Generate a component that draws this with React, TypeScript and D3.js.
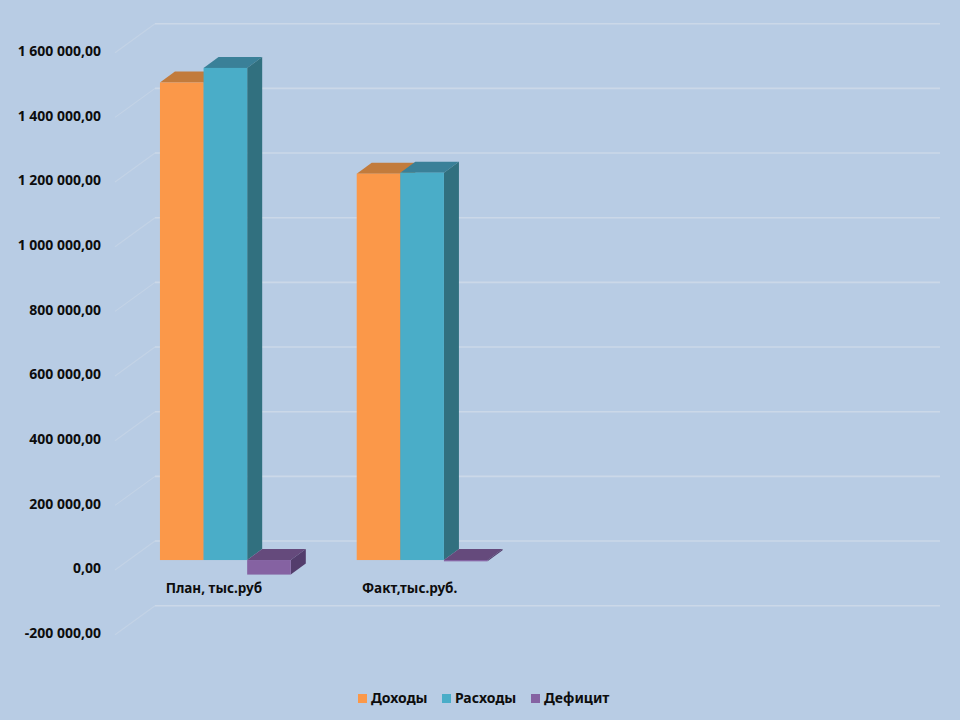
import React from 'react'
import * as d3 from 'd3'

const categories = ['План, тыс.руб', 'Факт,тыс.руб.', ' ', '  ']
const seriesNames = ['Доходы', 'Расходы', 'Дефицит']
const dohody = [1477000, 1195000]
const rashody = [1522000, 1198000]
const deficit = [-45000, -4000]
const yTicks = [-200000, 0, 200000, 400000, 600000, 800000, 1000000, 1200000, 1400000, 1600000]

const seriesValues = [dohody, rashody, deficit]
const colors = [
  { front: '#fb9849', top: '#c27b3c', side: '#a8672f' },
  { front: '#4aadc8', top: '#3a8098', side: '#31707f' },
  { front: '#8562a2', top: '#654a7c', side: '#533d6c' },
]

const fontFamily = '"Noto Sans", sans-serif'
const gridColor = '#cbd8e8'

// wall depth and bar depth of the fake 3d box
const wallDx = 40
const wallDy = 29
const barDx = 15
const barDy = 11

const fmt = (v: number) => d3.format(',.2f')(v).replace(/,/g, ' ').replace('.', ',').replace('−', '-')

export default function App() {
  const y = d3.scaleLinear().domain([-200000, 1600000]).range([605.7, 23.7])
  const x = d3.scaleBand<string>().domain(categories).range([127, 914]).paddingInner(0.335).paddingOuter(0.1675)
  const xSeries = d3.scaleBand<string>().domain(seriesNames).range([0, x.bandwidth()])
  const barY = (v: number) => y(v) + 19

  const poly = (pts: [number, number][]) => d3.line()(pts) + 'Z'

  return (
    <svg width={960} height={720} style={{ position: 'absolute', left: 0, top: 0, background: '#b8cce4' }} fontFamily={fontFamily}>
      {yTicks.map((t) => (
        <g key={t}>
          <line x1={155} x2={940} y1={y(t)} y2={y(t)} stroke={gridColor} strokeWidth={1.6} />
          <line x1={155} x2={155 - wallDx} y1={y(t)} y2={y(t) + wallDy} stroke={gridColor} strokeWidth={1.2} opacity={0.6} />
          <text x={101} y={y(t) + 29 - 1.5} dy="0.35em" textAnchor="end" fontSize={14} fontWeight={700} fill="#0d0d0d">
            {fmt(t)}
          </text>
        </g>
      ))}

      {categories.slice(0, dohody.length).map((cat, i) => (
        <g key={cat}>
          {seriesNames.map((name, s) => {
            const v = seriesValues[s][i]
            const x0 = (x(cat) as number) + (xSeries(name) as number)
            const x1 = x0 + xSeries.bandwidth()
            const yTop = barY(Math.max(v, 0))
            const yBot = barY(Math.min(v, 0))
            const c = colors[s]
            return (
              <g key={name}>
                <path d={poly([[x0, yTop], [x0 + barDx, yTop - barDy], [x1 + barDx, yTop - barDy], [x1, yTop]])} fill={c.top} />
                <path d={poly([[x1, yTop], [x1 + barDx, yTop - barDy], [x1 + barDx, yBot - barDy], [x1, yBot]])} fill={c.side} />
                <rect x={x0} y={yTop} width={x1 - x0} height={yBot - yTop} fill={c.front} />
              </g>
            )
          })}
          <text x={(x(cat) as number) + x.bandwidth() / 2 - 11.5 - i} y={593} textAnchor="middle" fontSize={13.5} fontWeight={700} fill="#0d0d0d">
            {cat}
          </text>
        </g>
      ))}

      {[358, 442, 531].map((lx, s) => (
        <g key={seriesNames[s]}>
          <rect x={lx} y={694} width={9} height={9} fill={colors[s].front} />
          <text x={lx + 13} y={703} fontSize={14} fontWeight={700} fill="#0d0d0d">
            {seriesNames[s]}
          </text>
        </g>
      ))}
    </svg>
  )
}
